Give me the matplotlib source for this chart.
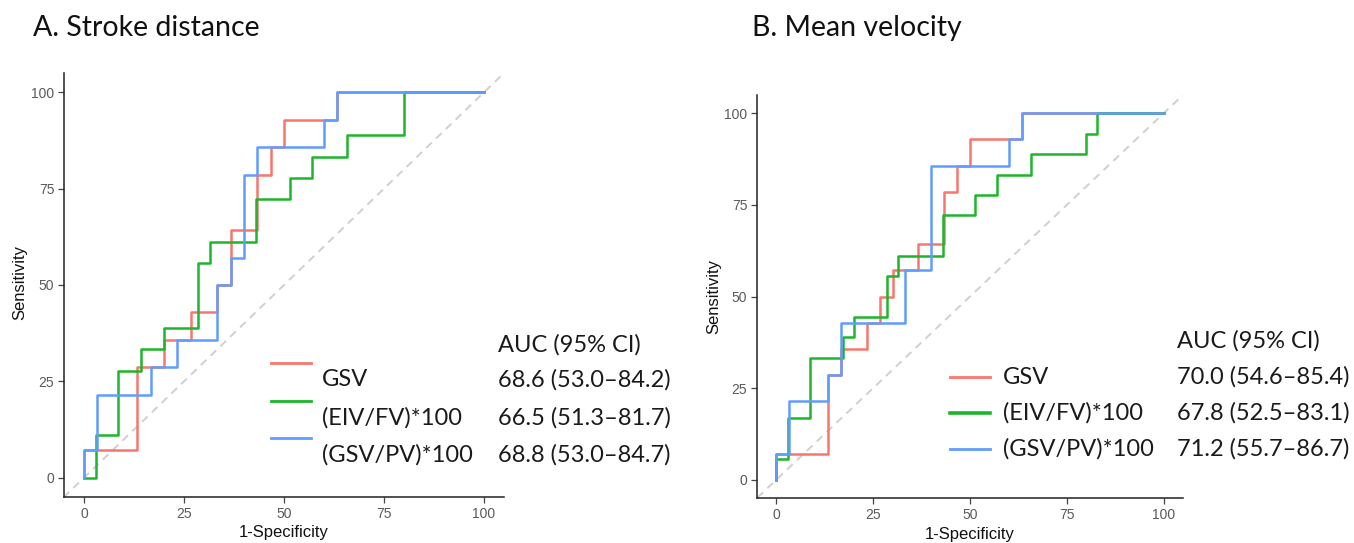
import matplotlib
matplotlib.use('Agg')
import matplotlib.pyplot as plt
from matplotlib.lines import Line2D

W, H = 1354, 543

# colours (ggplot defaults)
RED = '#F8766D'
GREEN = '#1DB52B'
BLUE = '#619CFF'

# ROC corner points (1-specificity, sensitivity), in %
# A. Stroke distance
a_gsv_x = [0, 0, 13.3, 20.0, 26.7, 33.3, 36.7, 43.3, 46.7, 50.0, 63.3, 100]
a_gsv_y = [0, 7.1, 28.6, 35.7, 42.9, 50.0, 64.3, 78.6, 85.7, 92.9, 100, 100]
a_eiv_x = [0, 2.9, 8.6, 14.3, 20.0, 28.6, 31.4, 42.9, 51.4, 57.1, 65.7, 80.0, 100]
a_eiv_y = [0, 11.1, 27.8, 33.3, 38.9, 55.6, 61.1, 72.2, 77.8, 83.3, 88.9, 100, 100]
a_gpv_x = [0, 0, 3.3, 16.7, 23.3, 33.3, 36.7, 40.0, 43.3, 60.0, 63.3, 100]
a_gpv_y = [0, 7.1, 21.4, 28.6, 35.7, 50.0, 57.1, 78.6, 85.7, 92.9, 100, 100]

# B. Mean velocity
b_gsv_x = [0, 0, 13.3, 16.7, 23.3, 26.7, 30.0, 36.7, 43.3, 46.7, 50.0, 63.3, 100]
b_gsv_y = [0, 7.1, 28.6, 35.7, 42.9, 50.0, 57.1, 64.3, 78.6, 85.7, 92.9, 100, 100]
b_eiv_x = [0, 0, 2.9, 8.6, 17.1, 20.0, 28.6, 31.4, 42.9, 51.4, 57.1, 65.7, 80.0, 82.9, 100]
b_eiv_y = [0, 5.6, 16.7, 33.3, 38.9, 44.4, 55.6, 61.1, 72.2, 77.8, 83.3, 88.9, 94.4, 100, 100]
b_gpv_x = [0, 0, 3.3, 13.3, 16.7, 33.3, 40.0, 60.0, 63.3, 100]
b_gpv_y = [0, 7.1, 21.4, 28.6, 42.9, 57.1, 85.7, 92.9, 100, 100]

labels = ['GSV', '(EIV/FV)*100', '(GSV/PV)*100']
auc_a = ['68.6 (53.0\u201384.2)', '66.5 (51.3\u201381.7)', '68.8 (53.0\u201384.7)']
auc_b = ['70.0 (54.6\u201385.4)', '67.8 (52.5\u201383.1)', '71.2 (55.7\u201386.7)']
ticks = [0, 25, 50, 75, 100]

fig = plt.figure(figsize=(W / 100, H / 100), dpi=100)


def px_axes(x0, y0, x1, y1):
    return fig.add_axes([x0 / W, 1 - y1 / H, (x1 - x0) / W, (y1 - y0) / H])


def style_axes(ax):
    ax.set_xlim(-5, 105)
    ax.set_ylim(-5, 105)
    ax.set_xticks(ticks)
    ax.set_yticks(ticks)
    for s in ['top', 'right']:
        ax.spines[s].set_visible(False)
    for s in ['left', 'bottom']:
        ax.spines[s].set_linewidth(1.1)
        ax.spines[s].set_color('#222222')
    ax.tick_params(length=4, width=0.9, color='#444444', pad=3,
                   labelsize=10, labelcolor='#5a5a5a')
    for t in ax.get_xticklabels() + ax.get_yticklabels():
        t.set_fontfamily('Liberation Sans')
    ax.plot([-10, 110], [-10, 110], color='#d0d0d0', lw=1.4, ls=(0, (4, 3)), zorder=1)


def ftext(x, y, s, **kw):
    fig.text(x / W, 1 - y / H, s, va='center', **kw)


def fline(x0, x1, y, color, lw=2.0):
    fig.add_artist(Line2D([x0 / W, x1 / W], [1 - y / H, 1 - y / H],
                          transform=fig.transFigure, color=color, lw=lw))


TXT = dict(family='Lato', fontsize=17, color='#1a1a1a')
TTL = dict(family='Lato', fontsize=20.5, color='#111111')
AXL = dict(family='Liberation Sans', fontsize=12, color='#111111')
LW = 1.8

# ---- Panel A
ax1 = px_axes(64, 73, 504, 497)
style_axes(ax1)
ax1.plot(a_gsv_x, a_gsv_y, drawstyle='steps-post', color=RED, lw=LW, zorder=3)
ax1.plot(a_eiv_x, a_eiv_y, drawstyle='steps-post', color=GREEN, lw=LW, zorder=3)
ax1.plot(a_gpv_x, a_gpv_y, drawstyle='steps-post', color=BLUE, lw=LW, zorder=3)

ftext(33, 28, 'A. Stroke distance', **TTL)
ftext(284, 533, '1-Specificity', ha='center', **AXL)
fig.text(20 / W, 1 - 283 / H, 'Sensitivity', rotation=90, ha='center', va='center', **AXL)

ftext(498, 345, 'AUC (95% CI)', **TXT)
for i, (lab, auc, col) in enumerate(zip(labels, auc_a, [RED, GREEN, BLUE])):
    y = 380 + i * 37.5
    fline(271, 311, y - 17, col, lw=2.0)
    ftext(322, y, lab, **TXT)
    ftext(498, y, auc, **TXT)

# ---- Panel B
ax2 = px_axes(757, 95, 1183, 498)
style_axes(ax2)
ax2.plot(b_gsv_x, b_gsv_y, drawstyle='steps-post', color=RED, lw=LW, zorder=3)
ax2.plot(b_eiv_x, b_eiv_y, drawstyle='steps-post', color=GREEN, lw=LW, zorder=3)
ax2.plot(b_gpv_x, b_gpv_y, drawstyle='steps-post', color=BLUE, lw=LW, zorder=3)

ftext(752, 28, 'B. Mean velocity', **TTL)
ftext(970, 535, '1-Specificity', ha='center', **AXL)
fig.text(714 / W, 1 - 297 / H, 'Sensitivity', rotation=90, ha='center', va='center', **AXL)

ftext(1177, 341, 'AUC (95% CI)', **TXT)
for i, (lab, auc, col) in enumerate(zip(labels, auc_b, [RED, GREEN, BLUE])):
    y = 377 + i * 36
    fline(950, 990, y, col, lw=2.6 if col == GREEN else 2.0)
    ftext(1003, y, lab, **TXT)
    ftext(1177, y, auc, **TXT)

fig.savefig('out.png', dpi=100, facecolor='white')
